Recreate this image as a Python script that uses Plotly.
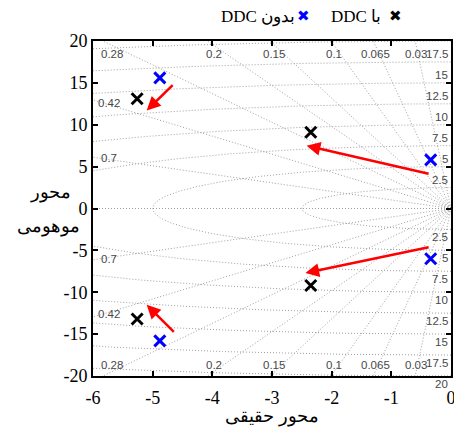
import numpy as np
import plotly.graph_objects as go

# ---- data ----
zeta_values = [0.03, 0.065, 0.1, 0.15, 0.2, 0.28, 0.42, 0.7]
zeta_top_labels = ["0.03", "0.065", "0.1", "0.15", "0.2", "0.28"]
zeta_side_labels = ["0.42", "0.7"]
wn_values = [2.5, 5, 7.5, 10, 12.5, 15, 17.5, 20]
wn_labels = ["2.5", "5", "7.5", "10", "12.5", "15", "17.5", "20"]

with_ddc_re = [-5.26, -2.35, -2.35, -5.26]
with_ddc_im = [13.1, 9.1, -9.2, -13.2]
without_ddc_re = [-4.88, -0.34, -0.34, -4.88]
without_ddc_im = [15.6, 5.8, -6.0, -15.8]

arrow_tail_re = [-4.64, -0.35, -0.35, -4.62]
arrow_tail_im = [14.9, 4.1, -4.6, -14.9]
arrow_head_re = [-5.1, -2.42, -2.44, -5.1]
arrow_head_im = [11.7, 7.5, -7.7, -11.5]

x_ticks = [-6, -5, -4, -3, -2, -1, 0]
y_ticks = [-20, -15, -10, -5, 0, 5, 10, 15, 20]

legend_with = "DDC با"
legend_without = "DDC بدون"
x_title = "محور حقیقی"
y_title_1 = "محور"
y_title_2 = "موهومی"

GRID = "#a0a0a0"
LBL = "#484848"
SERIF = "Liberation Serif, Times New Roman, serif"
SANS = "Liberation Sans, Arial, sans-serif"

fig = go.Figure()

# damping lines
R = 40.0
for z in zeta_values + [1.0]:
    s = np.sqrt(1 - z * z)
    fig.add_trace(go.Scatter(x=[0, -z * R, None, 0, -z * R], y=[0, s * R, None, 0, -s * R],
                             mode="lines", line=dict(color=GRID, width=1, dash="1px,2px"),
                             hoverinfo="skip", showlegend=False))
# natural-frequency arcs
for w in wn_values:
    a = np.linspace(-np.pi / 2, np.pi / 2, 400)
    fig.add_trace(go.Scatter(x=-w * np.cos(a), y=w * np.sin(a), mode="lines",
                             line=dict(color=GRID, width=1, dash="1px,2px"),
                             hoverinfo="skip", showlegend=False))

fig.add_trace(go.Scatter(x=with_ddc_re, y=with_ddc_im, mode="markers", name=legend_with,
                         marker=dict(symbol="x-thin", size=11, line=dict(width=3, color="black")),
                         showlegend=False))
fig.add_trace(go.Scatter(x=without_ddc_re, y=without_ddc_im, mode="markers", name=legend_without,
                         marker=dict(symbol="x-thin", size=11, line=dict(width=3, color="#0000ff")),
                         showlegend=False))

ann = []
for tr, ti, hr, hi in zip(arrow_tail_re, arrow_tail_im, arrow_head_re, arrow_head_im):
    ann.append(dict(x=hr, y=hi, ax=tr, ay=ti, xref="x", yref="y", axref="x", ayref="y",
                    showarrow=True, arrowhead=2, arrowsize=1.1, arrowwidth=2.5,
                    arrowcolor="red", standoff=0, text=""))

# zeta labels at top and bottom edges
for z, t in zip(zeta_values[:6], zeta_top_labels):
    xx = -z / np.sqrt(1 - z * z) * 19.5
    for yy in (18.4, -18.7):
        ann.append(dict(x=xx, y=yy, xref="x", yref="y", text=t, showarrow=False,
                        font=dict(family=SANS, size=11.5, color=LBL)))
# zeta labels at left edge
for z, t in zip(zeta_values[6:], zeta_side_labels):
    yy = np.sqrt(1 - z * z) / z * 5.72 + 0.2
    for sgn in (1, -1):
        ann.append(dict(x=-5.73, y=sgn * yy, xref="x", yref="y", text=t, showarrow=False,
                        font=dict(family=SANS, size=11.5, color=LBL)))
# wn labels at right edge
for w, t in zip(wn_values, wn_labels):
    if w < 20:
        ann.append(dict(x=-0.02, y=w, xref="x", yref="y", text=t, showarrow=False,
                        xanchor="right", yanchor="bottom",
                        font=dict(family=SANS, size=11.5, color=LBL)))
    ann.append(dict(x=-0.02, y=-w, xref="x", yref="y", text=t, showarrow=False,
                    xanchor="right", yanchor="top",
                    font=dict(family=SANS, size=11.5, color=LBL)))

# axis titles
ann.append(dict(x=0.5, y=-0.12, xref="paper", yref="paper", text=x_title, showarrow=False,
                xanchor="center", yanchor="middle", font=dict(family=SERIF, size=18, color="black")))
ann.append(dict(x=-0.118, y=0.549, xref="paper", yref="paper", text=y_title_1, showarrow=False,
                xanchor="center", yanchor="middle", font=dict(family=SERIF, size=18, color="black")))
ann.append(dict(x=-0.125, y=0.445, xref="paper", yref="paper", text=y_title_2, showarrow=False,
                xanchor="center", yanchor="middle", font=dict(family=SERIF, size=18, color="black")))

# legend (right-to-left layout)
ann.append(dict(x=0.57, y=1.072, xref="paper", yref="paper", text=legend_without, showarrow=False,
                xanchor="right", yanchor="middle", font=dict(family=SERIF, size=17, color="black")))
ann.append(dict(x=0.589, y=1.075, xref="paper", yref="paper", text="✖", showarrow=False,
                xanchor="center", yanchor="middle", font=dict(family="DejaVu Sans", size=15, color="#0000ff")))
ann.append(dict(x=0.81, y=1.072, xref="paper", yref="paper", text=legend_with, showarrow=False,
                xanchor="right", yanchor="middle", font=dict(family=SERIF, size=17, color="black")))
ann.append(dict(x=0.844, y=1.075, xref="paper", yref="paper", text="✖", showarrow=False,
                xanchor="center", yanchor="middle", font=dict(family="DejaVu Sans", size=15, color="black")))

fig.update_layout(
    width=454, height=428,
    margin=dict(l=93, r=3, t=41, b=52, autoexpand=False),
    paper_bgcolor="white", plot_bgcolor="white",
    annotations=ann, showlegend=False,
)
fig.update_xaxes(range=[-6, 0], tickvals=x_ticks, ticktext=[str(v) for v in x_ticks],
                 showgrid=False, zeroline=False, showline=True, linecolor="black", linewidth=2,
                 mirror="ticks", ticks="inside", ticklen=5, tickwidth=2, tickcolor="black",
                 tickfont=dict(family=SERIF, size=18, color="black"), ticklabelstandoff=4,
                 ticklabeloverflow="allow")
fig.update_yaxes(range=[-20, 20], tickvals=y_ticks, ticktext=[str(v) for v in y_ticks],
                 showgrid=False, zeroline=False, showline=True, linecolor="black", linewidth=2,
                 mirror="ticks", ticks="inside", ticklen=5, tickwidth=2, tickcolor="black",
                 tickfont=dict(family=SERIF, size=18, color="black"))

fig.write_html("out.html", config={"displayModeBar": False},
               post_script="document.body.style.margin='0';document.body.style.overflow='hidden';")
